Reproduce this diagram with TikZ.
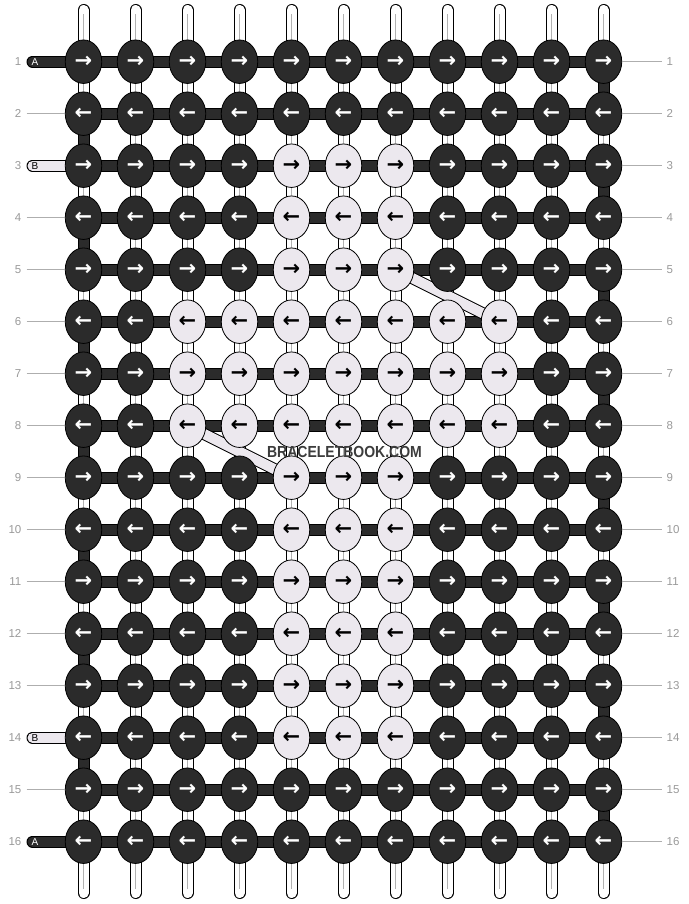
\documentclass[tikz,border=0pt]{standalone}
\usepackage{fontspec}
\setmainfont{Liberation Sans}
\newfontfamily\arrowfont{DejaVu Sans}
\usetikzlibrary{shapes.geometric}
\definecolor{knotdark}{HTML}{2B2B2B}
\definecolor{knotlight}{HTML}{ECE8EE}
\definecolor{numgray}{HTML}{9A9A9A}
\definecolor{markgray}{HTML}{3C3C3C}
\pgfdeclarelayer{paper}
\pgfdeclarelayer{bg}
\pgfsetlayers{paper,bg,main}
\begin{document}
\begin{tikzpicture}[x=1pt,y=-1pt,
  knotbase/.style={ellipse, draw=black, line width=0.8pt, minimum width=36.5pt, minimum height=43.5pt, inner sep=0pt, font=\arrowfont\bfseries\fontsize{21}{21}\selectfont},
  knotD/.style={knotbase, fill=knotdark, text=white},
  knotL/.style={knotbase, fill=knotlight, text=black},
  strL/.style={draw=black, line width=1pt, double=knotlight, double distance=10pt},
  strW/.style={draw=black, line width=1pt, double=white, double distance=10pt},
  strD/.style={draw=black, line width=1pt, double=knotdark, double distance=10pt},
  strTip/.style={strW, line cap=round},
  midline/.style={draw=gray!60, line width=0.6pt},
  pillD/.style={strD, line cap=round},
  pillL/.style={strL, line cap=round},
  rowline/.style={draw=numgray!80, line width=0.6pt},
  rownum/.style={text=numgray, font=\fontsize{11.5}{12}\selectfont, inner sep=0pt},
  pilltext/.style={font=\fontsize{10}{10}\selectfont, inner sep=0pt},
  wmark/.style={text=markgray, font=\bfseries\fontsize{16}{16}\selectfont, inner sep=0pt}
]
\useasboundingbox (0,0) rectangle (688,904);
\begin{pgfonlayer}{paper}
\fill[white] (0,0) rectangle (688,904);
\end{pgfonlayer}

% knots
\foreach \r in {1,...,16}{
  \foreach \c in {1,...,11}{
    \pgfmathtruncatemacro\islight{((\r>=3)&&(\r<=14)&&(\c>=5)&&(\c<=7)) || ((\r>=6)&&(\r<=8)&&(\c>=3)&&(\c<=9)) ? 1 : 0}
    \pgfmathtruncatemacro\isodd{mod(\r,2)}
    \ifnum\islight=1 \def\kst{knotL}\else\def\kst{knotD}\fi
    \ifnum\isodd=1 \def\arr{→}\else\def\arr{←}\fi
    \node[\kst] (n-\r-\c) at ({83.5+52*(\c-1)},{61.7+52*(\r-1)}) {\arr};
  }
}

\begin{pgfonlayer}{bg}
  % top and bottom strand ends
  \foreach \c in {1,...,11}{
    \coordinate (top-\c) at ({83.5+52*(\c-1)},10);
    \coordinate (topm-\c) at ({83.5+52*(\c-1)},14);
    \coordinate (bot-\c) at ({83.5+52*(\c-1)},893);
    \coordinate (botm-\c) at ({83.5+52*(\c-1)},889);
    \draw[strTip] (n-1-\c.center) -- (top-\c);
    \draw[midline] (n-1-\c.center) -- (topm-\c);
    \draw[strTip] (n-16-\c.center) -- (bot-\c);
    \draw[midline] (n-16-\c.center) -- (botm-\c);
  }
  % vertical segments
  \foreach \r in {1,...,15}{
    \pgfmathtruncatemacro\rn{\r+1}
    \pgfmathtruncatemacro\isodd{mod(\r,2)}
    \foreach \c in {1,...,11}{
      \pgfmathtruncatemacro\isdark{((\c==1)&&(\isodd==0)) || ((\c==11)&&(\isodd==1)) ? 1 : 0}
      \ifnum\isdark=1
        \draw[strD] (n-\r-\c.center) -- (n-\rn-\c.center);
      \else
        \draw[strW] (n-\r-\c.center) -- (n-\rn-\c.center);
        \draw[midline] (n-\r-\c.center) -- (n-\rn-\c.center);
      \fi
    }
  }
  % horizontal bands
  \foreach \r in {1,...,16}{
    \foreach \c in {1,...,10}{
      \pgfmathtruncatemacro\cn{\c+1}
      \draw[strD] (n-\r-\c.center) -- (n-\r-\cn.center);
    }
  }
  % diagonal strings
  \draw[strL] (n-5-7.center) -- (n-6-9.center);
  \draw[strL] (n-8-3.center) -- (n-9-5.center);
  % left pills
  \coordinate (p-1) at (32.5,61.7);
  \coordinate (p-3) at (32.5,165.7);
  \coordinate (p-14) at (32.5,737.7);
  \coordinate (p-16) at (32.5,841.7);
  \draw[pillD] (p-1) -- (n-1-1.center);
  \draw[pillL] (p-3) -- (n-3-1.center);
  \draw[pillL] (p-14) -- (n-14-1.center);
  \draw[pillD] (p-16) -- (n-16-1.center);
\end{pgfonlayer}

% row numbers and lines
\foreach \r in {1,...,16}{
  \node[rownum, anchor=east] (ll-\r) at (21.5,{61.7+52*(\r-1)}) {\r};
  \node[rownum, anchor=west] (rl-\r) at (666.5,{61.7+52*(\r-1)}) {\r};
  \coordinate (re-\r) at (661.5,{61.7+52*(\r-1)});
  \draw[rowline] (n-\r-11.east) -- (re-\r);
}
\foreach \r in {2,4,5,6,7,8,9,10,11,12,13,15}{
  \coordinate (le-\r) at (26.5,{61.7+52*(\r-1)});
  \draw[rowline] (le-\r) -- (n-\r-1.west);
}

\node[pilltext, text=white] (pa-1) at (35,61.7) {A};
\node[pilltext, text=black] (pb-3) at (35,165.7) {B};
\node[pilltext, text=black] (pb-14) at (35,737.7) {B};
\node[pilltext, text=white] (pa-16) at (35,841.7) {A};

% watermark
\node[wmark] (wm) at (344.5,451.5) {\scalebox{0.875}[1]{BRACELETBOOK.COM}};
\end{tikzpicture}
\end{document}
